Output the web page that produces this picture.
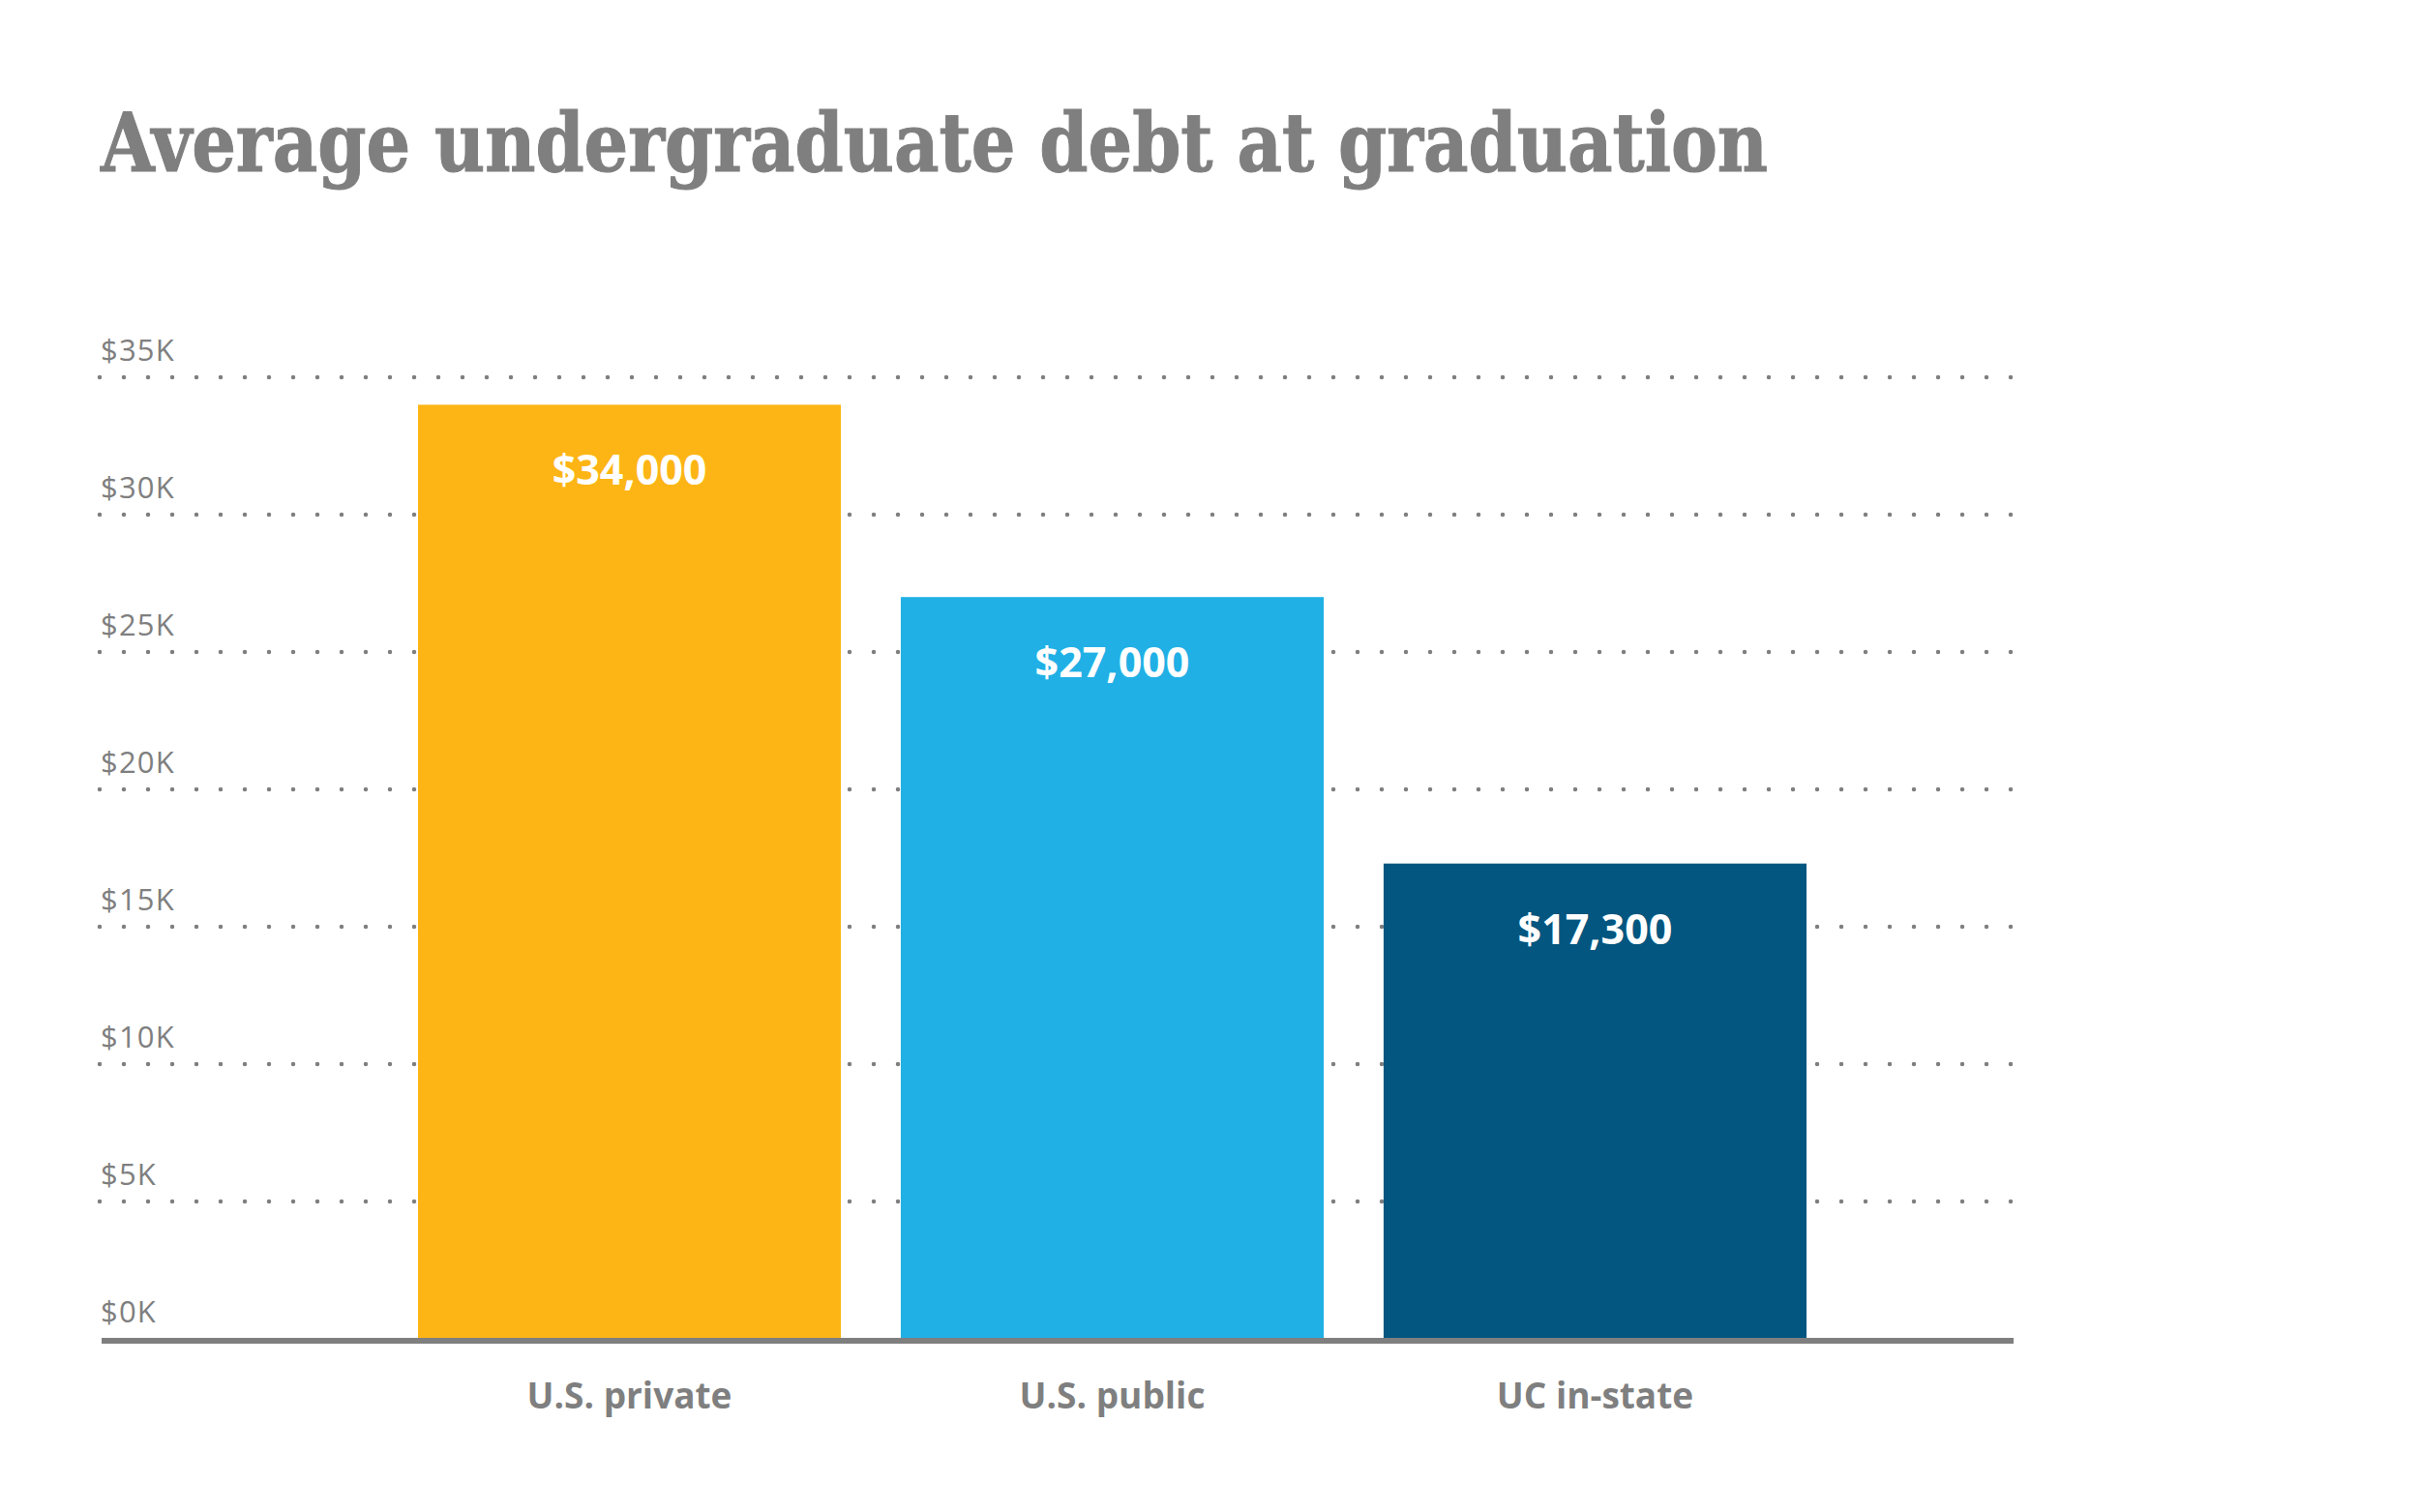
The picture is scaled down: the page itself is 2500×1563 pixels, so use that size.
<!DOCTYPE html>
<html>
<head>
<meta charset="utf-8">
<script src="https://cdn.jsdelivr.net/npm/d3@7"></script>
<style>
  body { margin: 0; background: #fff; }
  svg { display: block; }
</style>
</head>
<body>
<script>
// chart data
var categories = ["U.S. private", "U.S. public", "UC in-state"];
var debt = [34000, 27000, 17300];
var barColors = ["#fdb515", "#21b0e5", "#02567f"];
var yTicks = [0, 5000, 10000, 15000, 20000, 25000, 30000, 35000];
var yTickLabels = ["$0K", "$5K", "$10K", "$15K", "$20K", "$25K", "$30K", "$35K"];
var title = "Average undergraduate debt at graduation";

var width = 2500;
var height = 1563;
var gray = "#7f7f80";
var left = 103;
var right = 2081;

var svg = d3
  .select("body")
  .append("svg")
  .attr("width", width)
  .attr("height", height);

svg
  .append("rect")
  .attr("width", width)
  .attr("height", height)
  .attr("fill", "#fff");

// title
svg
  .append("text")
  .attr("x", 104)
  .attr("y", 177)
  .attr("fill", gray)
  .attr("font-family", "DejaVu Serif")
  .attr("font-stretch", "condensed")
  .attr("font-weight", "bold")
  .attr("font-size", 84)
  .attr("stroke", gray)
  .attr("stroke-width", 1)
  .attr("textLength", 1723)
  .attr("lengthAdjust", "spacingAndGlyphs")
  .text(title);

var yScale = d3
  .scaleLinear()
  .domain([0, 35000])
  .range([1384, 390]);

var xScale = d3
  .scaleBand()
  .domain(categories)
  .range([432, 1867])
  .paddingInner(0.124)
  .paddingOuter(0);

// dotted gridlines (not the zero line)
svg
  .selectAll(".grid")
  .data(yTicks.slice(1))
  .enter()
  .append("line")
  .attr("class", "grid")
  .attr("x1", left)
  .attr("x2", right)
  .attr("y1", function(d) { return yScale(d); })
  .attr("y2", function(d) { return yScale(d); })
  .attr("stroke", gray)
  .attr("stroke-width", 4.5)
  .attr("stroke-linecap", "round")
  .attr("stroke-dasharray", "0 25");

// tick labels
svg
  .selectAll(".ylab")
  .data(yTicks)
  .enter()
  .append("text")
  .attr("class", "ylab")
  .attr("x", left + 1)
  .attr("y", function(d) { return yScale(d) - 17; })
  .attr("fill", gray)
  .attr("font-family", "Open Sans")
  .attr("font-weight", 500)
  .attr("font-size", 31)
  .attr("letter-spacing", 1.2)
  .text(function(d, i) { return yTickLabels[i]; });

// bars
svg
  .selectAll(".bar")
  .data(debt)
  .enter()
  .append("rect")
  .attr("class", "bar")
  .attr("x", function(d, i) { return xScale(categories[i]); })
  .attr("y", function(d) { return yScale(d); })
  .attr("width", xScale.bandwidth())
  .attr("height", function(d) { return yScale(0) - yScale(d); })
  .attr("fill", function(d, i) { return barColors[i]; });

// value labels inside bars
svg
  .selectAll(".val")
  .data(debt)
  .enter()
  .append("text")
  .attr("class", "val")
  .attr("x", function(d, i) { return xScale(categories[i]) + xScale.bandwidth() / 2; })
  .attr("y", function(d) { return yScale(d) + 83; })
  .attr("text-anchor", "middle")
  .attr("fill", "#fff")
  .attr("font-family", "Open Sans")
  .attr("font-weight", "bold")
  .attr("font-size", 43)
  .text(function(d) { return "$" + d3.format(",")(d); });

// baseline
svg
  .append("line")
  .attr("x1", left + 2)
  .attr("x2", right)
  .attr("y1", yScale(0) + 2)
  .attr("y2", yScale(0) + 2)
  .attr("stroke", gray)
  .attr("stroke-width", 6);

// category labels
svg
  .selectAll(".cat")
  .data(categories)
  .enter()
  .append("text")
  .attr("class", "cat")
  .attr("x", function(d) { return xScale(d) + xScale.bandwidth() / 2; })
  .attr("y", 1456)
  .attr("text-anchor", "middle")
  .attr("fill", gray)
  .attr("font-family", "Open Sans")
  .attr("font-weight", "bold")
  .attr("font-size", 37)
  .text(function(d) { return d; });
</script>
</body>
</html>
